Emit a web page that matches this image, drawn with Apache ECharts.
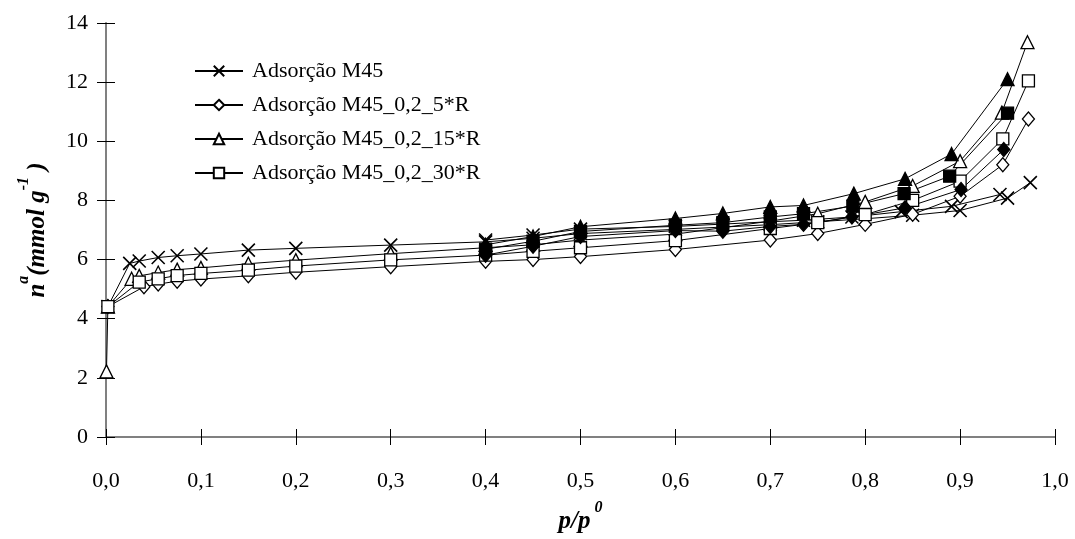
<!DOCTYPE html>
<html>
<head>
<meta charset="utf-8">
<script src="https://cdn.jsdelivr.net/npm/echarts@6/dist/echarts.min.js"></script>
<style>
  html, body { margin: 0; padding: 0; background: #fff; }
  #chart { width: 1075px; height: 539px; }
</style>
</head>
<body>
<div id="chart"></div>
<script>
// Relative pressure (p/p0) and adsorbed amount (mmol/g) for each isotherm branch
const m45AdsP = [0.002, 0.025, 0.035, 0.055, 0.075, 0.1, 0.15, 0.2, 0.3, 0.4, 0.45, 0.5, 0.6, 0.7, 0.75, 0.8, 0.85, 0.9, 0.95, 0.974];
const m45AdsN = [4.41, 5.87, 5.95, 6.07, 6.13, 6.19, 6.32, 6.38, 6.49, 6.6, 6.72, 6.88, 7.02, 7.18, 7.28, 7.38, 7.5, 7.66, 8.08, 8.6];
const m45DesP = [0.942, 0.891, 0.838, 0.786, 0.735, 0.7, 0.65, 0.6, 0.5, 0.45, 0.4];
const m45DesN = [8.2, 7.8, 7.62, 7.44, 7.33, 7.28, 7.2, 7.12, 7.03, 6.83, 6.66];

const r5AdsP = [0.002, 0.04, 0.055, 0.075, 0.1, 0.15, 0.2, 0.3, 0.4, 0.45, 0.5, 0.6, 0.7, 0.75, 0.8, 0.85, 0.9, 0.945, 0.972];
const r5AdsN = [4.41, 5.08, 5.17, 5.27, 5.34, 5.45, 5.57, 5.76, 5.94, 6.0, 6.1, 6.34, 6.66, 6.88, 7.19, 7.53, 8.14, 9.21, 10.75];
const r5DesP = [0.946, 0.901, 0.842, 0.786, 0.735, 0.7, 0.65, 0.6, 0.5, 0.45, 0.4];
const r5DesN = [9.72, 8.37, 7.75, 7.44, 7.19, 7.12, 6.96, 6.98, 6.78, 6.45, 6.15];

const r15AdsP = [0.0005, 0.002, 0.027, 0.035, 0.055, 0.075, 0.1, 0.15, 0.2, 0.3, 0.4, 0.45, 0.5, 0.6, 0.7, 0.75, 0.8, 0.85, 0.9, 0.944, 0.971];
const r15AdsN = [2.22, 4.41, 5.35, 5.45, 5.56, 5.66, 5.72, 5.86, 5.98, 6.2, 6.4, 6.5, 6.66, 6.86, 7.3, 7.55, 7.95, 8.49, 9.33, 10.97, 13.35];
const r15DesP = [0.95, 0.891, 0.842, 0.788, 0.735, 0.7, 0.65, 0.6, 0.5, 0.45, 0.4];
const r15DesN = [12.1, 9.57, 8.73, 8.23, 7.83, 7.78, 7.56, 7.39, 7.11, 6.78, 6.5];

const r30AdsP = [0.002, 0.035, 0.055, 0.075, 0.1, 0.15, 0.2, 0.3, 0.4, 0.45, 0.5, 0.6, 0.7, 0.75, 0.8, 0.85, 0.9, 0.945, 0.972];
const r30AdsN = [4.41, 5.24, 5.35, 5.46, 5.53, 5.64, 5.78, 5.99, 6.15, 6.28, 6.4, 6.64, 7.05, 7.25, 7.52, 8.0, 8.65, 10.08, 12.04];
const r30DesP = [0.95, 0.889, 0.841, 0.787, 0.735, 0.7, 0.65, 0.6, 0.5, 0.45, 0.4];
const r30DesN = [10.95, 8.82, 8.23, 7.81, 7.55, 7.44, 7.25, 7.16, 6.95, 6.62, 6.35];

const legendNames = ['Adsorção M45', 'Adsorção M45_0,2_5*R', 'Adsorção M45_0,2_15*R', 'Adsorção M45_0,2_30*R'];

const FONT = 'Liberation Serif';
const zip = (xs, ys) => xs.map((x, i) => [x, ys[i]]);
const CROSS = 'path://M0,0L10,10M10,0L0,10';

function branch(name, xs, ys, symbol, size, fill) {
  return {
    name: name,
    type: 'line',
    data: zip(xs, ys),
    symbol: symbol,
    symbolSize: size,
    showSymbol: true,
    lineStyle: { color: '#000', width: 1 },
    itemStyle: { color: fill, borderColor: '#000', borderWidth: symbol === CROSS ? 1.6 : 1.3 },
    emphasis: { disabled: true },
    z: 2
  };
}

const series = [
  branch(legendNames[0], m45AdsP, m45AdsN, CROSS, 13, '#000'),
  branch(legendNames[1], r5AdsP, r5AdsN, 'diamond', [12, 14], '#fff'),
  branch(legendNames[2], r15AdsP, r15AdsN, 'triangle', 13, '#fff'),
  branch(legendNames[3], r30AdsP, r30AdsN, 'rect', 12, '#fff'),
  branch('Dessorção M45', m45DesP, m45DesN, CROSS, 13, '#000'),
  branch('Dessorção M45_0,2_5*R', r5DesP, r5DesN, 'diamond', [12, 14], '#000'),
  branch('Dessorção M45_0,2_15*R', r15DesP, r15DesN, 'triangle', 13, '#000'),
  branch('Dessorção M45_0,2_30*R', r30DesP, r30DesN, 'rect', 12, '#000')
];

const tickFont = { fontFamily: FONT, fontSize: 22, color: '#000' };
const titleStyle = { fontFamily: FONT, fontSize: 25, fontWeight: 'bold', fontStyle: 'italic', color: '#000' };
const titleRich = {
  i: Object.assign({}, titleStyle, { verticalAlign: 'bottom', lineHeight: 34 }),
  s: Object.assign({}, titleStyle, { fontSize: 16, verticalAlign: 'top', lineHeight: 34 })
};

const xBase = { type: 'value', min: 0, max: 1, interval: 0.1, gridIndex: 0, position: 'bottom', splitLine: { show: false } };
const yBase = { type: 'value', min: 0, max: 14, interval: 2, gridIndex: 0, position: 'left', splitLine: { show: false } };

const option = {
  animation: false,
  backgroundColor: '#fff',
  grid: { left: 106, right: 20, top: 23, bottom: 99, containLabel: false },
  legend: {
    data: legendNames,
    orient: 'vertical',
    left: 189,
    top: 55,
    itemWidth: 48,
    itemHeight: 13,
    itemGap: 12,
    textStyle: { fontFamily: FONT, fontSize: 22, color: '#000', padding: [0, 0, 0, 4] },
    inactiveColor: '#000'
  },
  xAxis: [
    Object.assign({}, xBase, {
      axisLine: { show: true, lineStyle: { color: '#808080', width: 2 } },
      axisTick: { show: true, length: 8, lineStyle: { color: '#000', width: 1 } },
      axisLabel: { margin: 33, formatter: v => v.toFixed(1).replace('.', ','), ...tickFont },
      name: '{i|p/p}{s| 0}',
      nameLocation: 'middle',
      nameGap: 63,
      nameTextStyle: Object.assign({}, titleStyle, { rich: titleRich })
    }),
    Object.assign({}, xBase, {
      axisLine: { show: false },
      axisTick: { show: true, inside: true, length: 8, lineStyle: { color: '#000', width: 1 } },
      axisLabel: { show: false }
    })
  ],
  yAxis: [
    Object.assign({}, yBase, {
      axisLine: { show: true, lineStyle: { color: '#808080', width: 2 } },
      axisTick: { show: true, length: 9, lineStyle: { color: '#000', width: 1 } },
      axisLabel: { margin: 18, ...tickFont },
      name: '{i|n}{s|a}{i|(mmol g}{s|-1}{i| )}',
      nameLocation: 'middle',
      nameRotate: 90,
      nameGap: 56,
      nameTextStyle: Object.assign({}, titleStyle, { rich: titleRich })
    }),
    Object.assign({}, yBase, {
      axisLine: { show: false },
      axisTick: { show: true, inside: true, length: 9, lineStyle: { color: '#000', width: 1 } },
      axisLabel: { show: false }
    })
  ],
  series: series
};

const chart = echarts.init(document.getElementById('chart'), null, { renderer: 'canvas' });
chart.setOption(option);
</script>
</body>
</html>
